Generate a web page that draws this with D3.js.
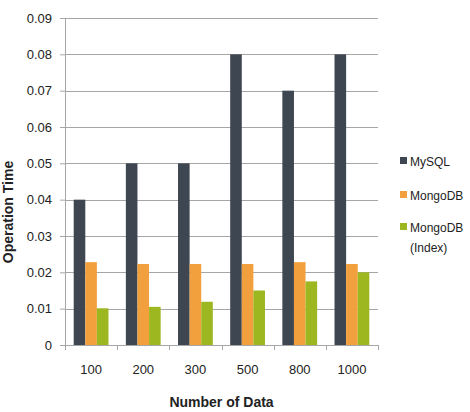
<!DOCTYPE html>
<html>
<head>
<meta charset="utf-8">
<script src="https://d3js.org/d3.v7.min.js"></script>
<style>
  body { margin: 0; background: #fff; }
  text { font-family: "Liberation Sans", Arial, sans-serif; fill: #222; }
</style>
</head>
<body>
<div id="chart"></div>
<script>
const categories = ['100', '200', '300', '500', '800', '1000'];
const seriesNames = ['MySQL', 'MongoDB', 'MongoDB (Index)'];
const mysql = [0.04, 0.05, 0.05, 0.08, 0.07, 0.08];
const mongodb = [0.0228, 0.0223, 0.0223, 0.0223, 0.0228, 0.0223];
const mongodbIndex = [0.0101, 0.0105, 0.0119, 0.015, 0.0175, 0.02];
const yTicks = [0, 0.01, 0.02, 0.03, 0.04, 0.05, 0.06, 0.07, 0.08, 0.09];
const colors = ['#3e4651', '#f2a03d', '#9cb71f'];

const width = 470, height = 412;
const margin = {top: 18, right: 92, bottom: 67, left: 65};
const innerW = width - margin.left - margin.right;
const innerH = height - margin.top - margin.bottom;

const svg = d3.select('#chart').append('svg')
    .attr('width', width)
    .attr('height', height);

const chart = svg.append('g')
    .attr('transform', `translate(${margin.left},${margin.top})`);

const x = d3.scaleBand().domain(categories).range([0, innerW]).paddingInner(0).paddingOuter(0);
const xSub = d3.scaleBand().domain(seriesNames).range([0, x.bandwidth()]).paddingOuter(0.75).paddingInner(0);
const y = d3.scaleLinear().domain([0, 0.09]).range([innerH, 0]);

// gridlines
chart.selectAll('.grid')
    .data(yTicks)
  .join('line')
    .attr('x1', 0).attr('x2', innerW)
    .attr('y1', d => Math.round(y(d)) + 0.5).attr('y2', d => Math.round(y(d)) + 0.5)
    .attr('stroke', '#a6a6a6')
    .attr('stroke-width', 1);

// y axis
const yAxis = chart.append('g')
    .call(d3.axisLeft(y).tickValues(yTicks).tickSize(5).tickPadding(8)
      .tickFormat(d => d === 0 ? '0' : d3.format('.2f')(d)));
yAxis.selectAll('line').attr('stroke', '#a6a6a6');
yAxis.select('.domain').attr('stroke', '#a6a6a6').attr('d', `M0.5,0V${innerH}`);
yAxis.selectAll('text').attr('font-size', 13).attr('font-family', '"Liberation Sans", Arial').attr('fill', '#222');

// bars
const rows = categories.map((c, i) => ({cat: c, vals: [mysql[i], mongodb[i], mongodbIndex[i]]}));
chart.selectAll('.group')
    .data(rows)
  .join('g')
    .attr('transform', d => `translate(${x(d.cat)},0)`)
  .selectAll('rect')
    .data(d => d.vals.map((v, k) => ({v, k})))
  .join('rect')
    .attr('x', d => xSub(seriesNames[d.k]))
    .attr('width', xSub.bandwidth())
    .attr('y', d => y(d.v))
    .attr('height', d => innerH - y(d.v))
    .attr('fill', d => colors[d.k]);

// x axis
const xAxis = chart.append('g')
    .attr('transform', `translate(0,${innerH})`)
    .call(d3.axisBottom(x).tickSize(0).tickPadding(20));
xAxis.select('.domain').attr('stroke', '#a6a6a6').attr('d', `M0,0.5H${innerW}`);
xAxis.selectAll('text').attr('font-size', 13).attr('font-family', '"Liberation Sans", Arial').attr('fill', '#222');
xAxis.selectAll('.sep')
    .data(d3.range(categories.length + 1))
  .join('line')
    .attr('x1', i => Math.round(i * x.step()) + 0.5).attr('x2', i => Math.round(i * x.step()) + 0.5)
    .attr('y1', 0).attr('y2', 5)
    .attr('stroke', '#a6a6a6');

// axis titles
svg.append('text')
    .attr('x', margin.left + innerW / 2)
    .attr('y', 407)
    .attr('text-anchor', 'middle')
    .attr('font-size', 14)
    .attr('font-weight', 'bold')
    .text('Number  of Data');

svg.append('text')
    .attr('transform', `translate(13,212) rotate(-90)`)
    .attr('text-anchor', 'middle')
    .attr('font-size', 14)
    .attr('font-weight', 'bold')
    .text('Operation  Time');

// legend
const legendItems = [
  {lines: ['MySQL'], y: 162},
  {lines: ['MongoDB'], y: 196},
  {lines: ['MongoDB', '(Index)'], y: 228}
];
const legend = svg.append('g');
legendItems.forEach((item, i) => {
  legend.append('rect')
      .attr('x', 400).attr('y', item.y - 5)
      .attr('width', 7).attr('height', 7)
      .attr('fill', colors[i]);
  item.lines.forEach((l, j) => {
    legend.append('text')
        .attr('x', 410)
        .attr('y', item.y + j * 20)
        .attr('dy', '0.35em')
        .attr('font-size', 12)
        .text(l);
  });
});
</script>
</body>
</html>
